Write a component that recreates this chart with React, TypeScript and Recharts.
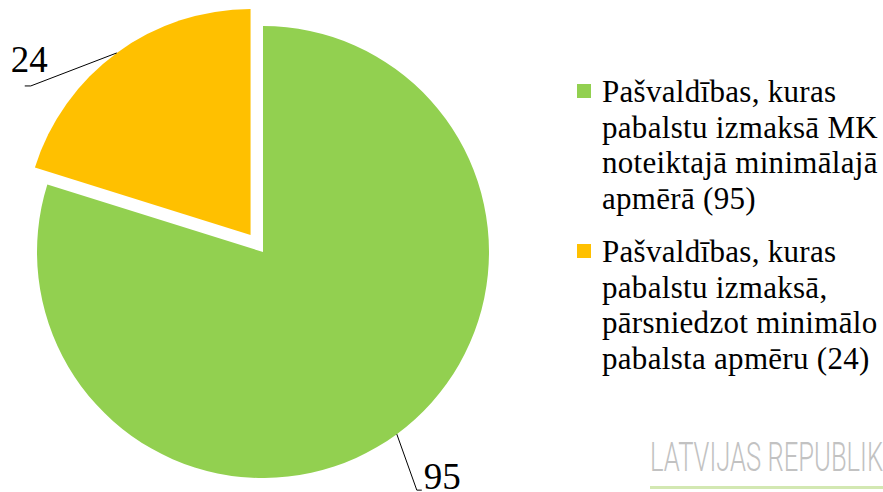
import { Cell, Pie, PieChart } from 'recharts'

const categories = [
  'Pašvaldības, kuras pabalstu izmaksā MK noteiktajā minimālajā apmērā (95)',
  'Pašvaldības, kuras pabalstu izmaksā, pārsniedzot minimālo pabalsta apmēru (24)',
]
const values = [95, 24]
const sliceColors = ['#92d050', '#ffc000']

const data = categories.map((name, i) => ({ name, value: values[i] }))

const RAD = Math.PI / 180
const CX = 263
const CY = 252
const R = 226
const EXPLODE = 21

// orange slice is pulled out along its middle angle
const total = values.reduce((a, b) => a + b, 0)
const explodeMid = 90 + ((values[1] / total) * 360) / 2
const ex = CX + EXPLODE * Math.cos(explodeMid * RAD)
const ey = CY - EXPLODE * Math.sin(explodeMid * RAD)

const serif = '"Liberation Serif"'

function makeLabel(show: number) {
  return (props: any) => {
    const { cx, cy, midAngle, outerRadius, value, index } = props
    if (index !== show) return null
    const sx = cx + outerRadius * Math.cos(-midAngle * RAD)
    const sy = cy + outerRadius * Math.sin(-midAngle * RAD)
    if (index === 0) {
      const mx = sx + 20
      const my = sy + 56
      return (
        <g>
          <polyline points={`${sx},${sy} ${mx},${my} ${mx + 5},${my}`} fill="none" stroke="#000" strokeWidth={1} />
          <text x={mx + 7} y={my - 1} style={{ fontFamily: serif, fontSize: 37 }} fill="#000">
            {value}
          </text>
        </g>
      )
    }
    const mx = sx - 86
    const my = sy + 33
    return (
      <g>
        <polyline points={`${sx},${sy} ${mx},${my} ${mx - 6},${my}`} fill="none" stroke="#000" strokeWidth={1} />
        <text x={mx - 20} y={my - 14} style={{ fontFamily: serif, fontSize: 37 }} fill="#000">
          {value}
        </text>
      </g>
    )
  }
}

function ChartLegend() {
  return (
    <div
      style={{
        position: 'absolute',
        left: 577,
        top: 74,
        width: 314,
        fontFamily: serif,
        fontSize: 31,
        letterSpacing: 0.3,
        lineHeight: '35.5px',
        color: '#000',
      }}
    >
      {categories.map((c, i) => (
        <div key={c} style={{ display: 'flex', alignItems: 'flex-start', marginBottom: 18 }}>
          <span
            style={{ width: 14, height: 14, background: sliceColors[i], marginTop: 10, marginRight: 11, flexShrink: 0 }}
          />
          <span>{c}</span>
        </div>
      ))}
    </div>
  )
}

export default function App() {
  return (
    <div style={{ position: 'absolute', left: 0, top: 0, width: 883, height: 492, overflow: 'hidden', background: '#fff' }}>
      <PieChart width={883} height={492} margin={{ top: 0, right: 0, bottom: 0, left: 0 }}>
        <Pie
          data={data}
          dataKey="value"
          nameKey="name"
          cx={CX}
          cy={CY}
          outerRadius={R}
          startAngle={90}
          endAngle={-270}
          stroke="none"
          labelLine={false}
          label={makeLabel(0)}
          isAnimationActive={false}
        >
          {data.map((d, i) => (
            <Cell key={d.name} fill={i === 0 ? sliceColors[0] : 'none'} />
          ))}
        </Pie>
        <Pie
          data={data}
          dataKey="value"
          nameKey="name"
          cx={ex}
          cy={ey}
          outerRadius={R}
          startAngle={90}
          endAngle={-270}
          stroke="none"
          labelLine={false}
          label={makeLabel(1)}
          isAnimationActive={false}
        >
          {data.map((d, i) => (
            <Cell key={d.name} fill={i === 1 ? sliceColors[1] : 'none'} />
          ))}
        </Pie>
      </PieChart>
      <ChartLegend />
      <div
        style={{
          position: 'absolute',
          left: 650,
          top: 438,
          fontFamily: 'Roboto, sans-serif',
          fontWeight: 300,
          fontSize: 40,
          lineHeight: '40px',
          color: '#c2c2c2',
          whiteSpace: 'nowrap',
          transform: 'scaleX(0.64)',
          transformOrigin: 'left top',
        }}
      >
        LATVIJAS REPUBLIKA
      </div>
      <div style={{ position: 'absolute', left: 650, top: 486, width: 240, height: 3, background: '#d3e8b2' }} />
    </div>
  )
}
